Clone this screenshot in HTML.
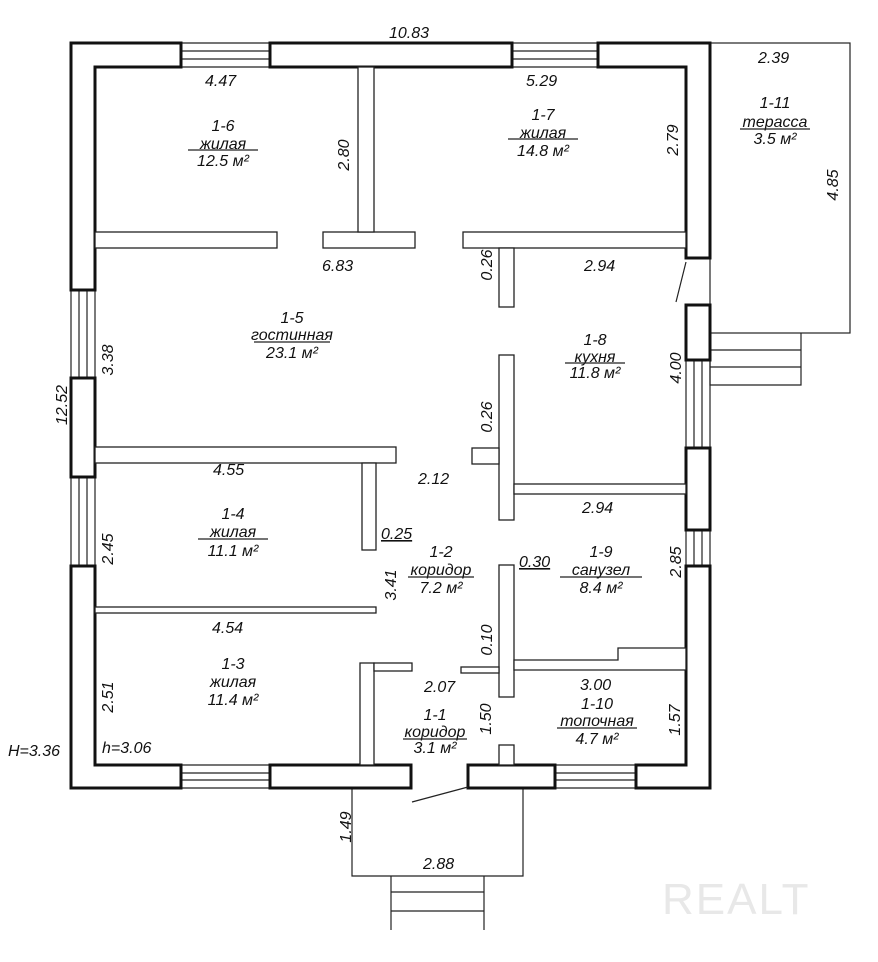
<!DOCTYPE html>
<html><head><meta charset="utf-8"><style>
body{margin:0;background:#fff}
svg{display:block}
text{font-family:"Liberation Sans","DejaVu Sans",sans-serif;font-style:italic;font-size:16px;fill:#111}
.w{fill:#fff;stroke:#111;stroke-width:3}
.p{fill:#fff;stroke:#222;stroke-width:1.3}
.l{stroke:#222;stroke-width:1.2;fill:none}
</style></head><body>
<svg width="878" height="962" viewBox="0 0 878 962" xmlns="http://www.w3.org/2000/svg">
<!-- terrace -->
<rect x="710" y="43" width="140" height="290" class="l"/>
<path class="l" d="M710 333V385H801V333M710 350H801M710 367H801"/>
<!-- porch -->
<path class="l" d="M352 788V876H523V788M391 876V930M484 876V930M391 892H484M391 911H484"/>
<!-- windows -->
<g class="l">
<path d="M181 43H270M181 51H270M181 59H270M181 67H270"/>
<path d="M512 43H598M512 51H598M512 59H598M512 67H598"/>
<path d="M71 290V378M79 290V378M87 290V378M95 290V378"/>
<path d="M71 477V566M79 477V566M87 477V566M95 477V566"/>
<path d="M686 360V448M694 360V448M702 360V448M710 360V448"/>
<path d="M686 530V566M694 530V566M702 530V566M710 530V566"/>
<path d="M181 765H270M181 773H270M181 780H270M181 788H270"/>
<path d="M555 765H636M555 773H636M555 780H636M555 788H636"/>
</g>
<!-- outer walls -->
<path class="w" d="M71 43H181V67H95V290H71Z"/>
<path class="w" d="M270 43H512V67H270Z"/>
<path class="w" d="M598 43H710V258H686V67H598Z"/>
<path class="w" d="M71 566H95V765H181V788H71Z"/>
<rect class="w" x="71" y="378" width="24" height="99"/>
<rect class="w" x="686" y="305" width="24" height="55"/>
<rect class="w" x="686" y="448" width="24" height="82"/>
<path class="w" d="M686 566H710V788H636V765H686Z"/>
<rect class="w" x="270" y="765" width="141" height="23"/>
<rect class="w" x="468" y="765" width="87" height="23"/>
<!-- interior -->
<g class="p">
<rect x="95" y="232" width="182" height="16"/>
<rect x="323" y="232" width="92" height="16"/>
<rect x="463" y="232" width="223" height="16"/>
<rect x="358" y="67" width="16" height="165"/>
<rect x="499" y="248" width="15" height="59"/>
<rect x="499" y="355" width="15" height="165"/>
<rect x="472" y="448" width="27" height="16"/>
<rect x="514" y="484" width="172" height="10"/>
<rect x="95" y="447" width="301" height="16"/>
<rect x="362" y="463" width="14" height="87"/>
<rect x="95" y="607" width="281" height="6"/>
<rect x="499" y="565" width="15" height="132"/>
<rect x="461" y="667" width="38" height="6"/>
<path d="M514 660H618V648H686V670H514Z"/>
<rect x="360" y="663" width="14" height="102"/>
<rect x="374" y="663" width="38" height="8"/>
<rect x="499" y="745" width="15" height="20"/>
</g>
<path class="l" d="M686 262L676 302M468 787L412 802"/>
<!-- labels -->
<text x="389" y="38">10.83</text>
<text x="205" y="86">4.47</text>
<text x="526" y="86">5.29</text>
<text x="758" y="63">2.39</text>
<text x="322" y="271">6.83</text>
<text x="584" y="271">2.94</text>
<text x="213" y="475">4.55</text>
<text x="418" y="484">2.12</text>
<text x="582" y="513">2.94</text>
<text x="381" y="539" style="text-decoration:underline">0.25</text>
<text x="519" y="567" style="text-decoration:underline">0.30</text>
<text x="212" y="633">4.54</text>
<text x="424" y="692">2.07</text>
<text x="580" y="690">3.00</text>
<text x="423" y="869">2.88</text>
<text x="8" y="756">H=3.36</text>
<text x="102" y="753">h=3.06</text>
<g text-anchor="middle">
<text transform="translate(349,155) rotate(-90)">2.80</text>
<text transform="translate(678,140) rotate(-90)">2.79</text>
<text transform="translate(838,185) rotate(-90)">4.85</text>
<text transform="translate(492,265) rotate(-90)">0.26</text>
<text transform="translate(492,417) rotate(-90)">0.26</text>
<text transform="translate(113,360) rotate(-90)">3.38</text>
<text transform="translate(67,405) rotate(-90)">12.52</text>
<text transform="translate(113,549) rotate(-90)">2.45</text>
<text transform="translate(113,697) rotate(-90)">2.51</text>
<text transform="translate(396,585) rotate(-90)">3.41</text>
<text transform="translate(492,640) rotate(-90)">0.10</text>
<text transform="translate(491,719) rotate(-90)">1.50</text>
<text transform="translate(681,368) rotate(-90)">4.00</text>
<text transform="translate(681,562) rotate(-90)">2.85</text>
<text transform="translate(680,720) rotate(-90)">1.57</text>
<text transform="translate(351,827) rotate(-90)">1.49</text>
<text x="223" y="131">1-6</text><text x="223" y="149">жилая</text><text x="223" y="166">12.5 м²</text>
<text x="543" y="120">1-7</text><text x="543" y="138">жилая</text><text x="543" y="156">14.8 м²</text>
<text x="775" y="108">1-11</text><text x="775" y="127">терасса</text><text x="775" y="144">3.5 м²</text>
<text x="292" y="323">1-5</text><text x="292" y="340">гостинная</text><text x="292" y="358">23.1 м²</text>
<text x="595" y="345">1-8</text><text x="595" y="362">кухня</text><text x="595" y="378">11.8 м²</text>
<text x="233" y="519">1-4</text><text x="233" y="537">жилая</text><text x="233" y="556">11.1 м²</text>
<text x="441" y="557">1-2</text><text x="441" y="575">коридор</text><text x="441" y="593">7.2 м²</text>
<text x="601" y="557">1-9</text><text x="601" y="575">санузел</text><text x="601" y="593">8.4 м²</text>
<text x="233" y="669">1-3</text><text x="233" y="687">жилая</text><text x="233" y="705">11.4 м²</text>
<text x="597" y="709">1-10</text><text x="597" y="726">топочная</text><text x="597" y="744">4.7 м²</text>
<text x="435" y="720">1-1</text><text x="435" y="737">коридор</text><text x="435" y="753">3.1 м²</text>
</g>
<g class="l">
<path d="M188 150H258M508 139H578M740 129H810M254 342H330M565 363H625M198 539H268M408 577H474M560 577H642M557 728H637M403 739H467"/>
</g>
<text x="662" y="914" style="font-style:normal;font-size:44px;fill:#e8e8e8;letter-spacing:2px">REALT</text>
</svg>
</body></html>
